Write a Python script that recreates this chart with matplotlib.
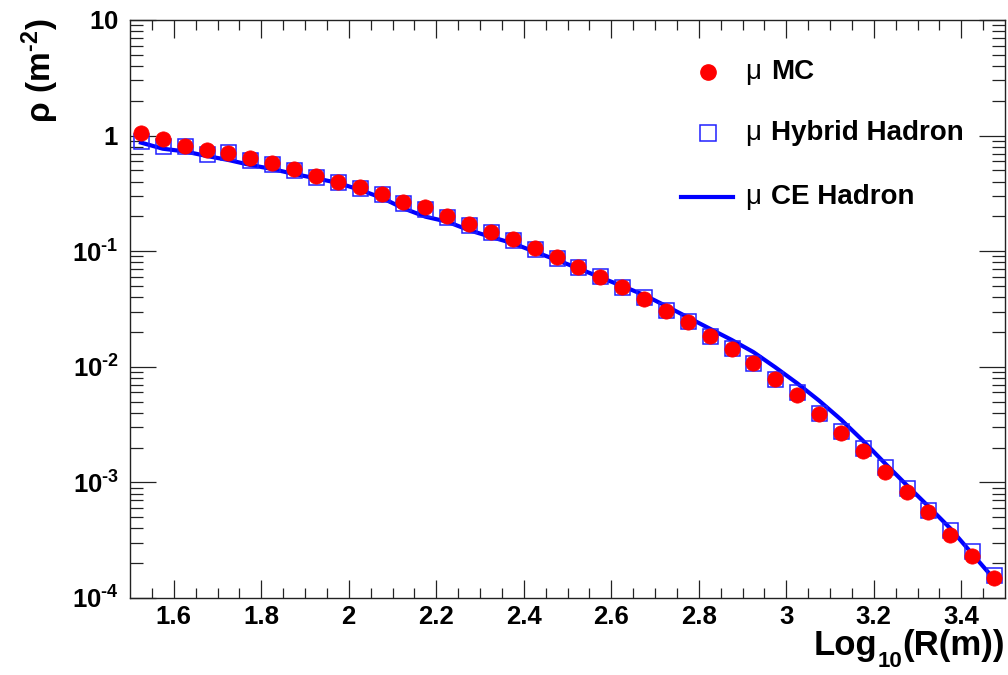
import numpy as np
import matplotlib
matplotlib.use('Agg')
import matplotlib.pyplot as plt
from matplotlib.ticker import FixedLocator, LogLocator, NullFormatter
from matplotlib.lines import Line2D

# -- muon lateral density vs log10(R) --
log_r = [1.525, 1.575, 1.625, 1.675, 1.725, 1.775, 1.825, 1.875, 1.925, 1.975,
         2.025, 2.075, 2.125, 2.175, 2.225, 2.275, 2.325, 2.375, 2.425, 2.475,
         2.525, 2.575, 2.625, 2.675, 2.725, 2.775, 2.825, 2.875, 2.925, 2.975,
         3.025, 3.075, 3.125, 3.175, 3.225, 3.275, 3.325, 3.375, 3.425, 3.475]

rho_mc = [1.05, 0.94, 0.81, 0.75, 0.71, 0.64, 0.58, 0.51, 0.45, 0.40,
          0.357, 0.313, 0.265, 0.24, 0.202, 0.171, 0.148, 0.127, 0.106, 0.0885,
          0.0734, 0.0594, 0.0487, 0.0389, 0.0304, 0.0243, 0.0186, 0.0142, 0.0107, 0.0078,
          0.0057, 0.0039, 0.0027, 0.00186, 0.00124, 0.00083, 0.00055, 0.00035, 0.00023, 0.000148]

rho_hybrid = [0.90, 0.81, 0.81, 0.70, 0.72, 0.62, 0.565, 0.50, 0.435, 0.40,
              0.35, 0.31, 0.26, 0.23, 0.197, 0.168, 0.148, 0.126, 0.105, 0.087,
              0.073, 0.061, 0.049, 0.040, 0.031, 0.0247, 0.0186, 0.0145, 0.0107, 0.0078,
              0.0061, 0.0040, 0.0028, 0.0020, 0.00136, 0.00090, 0.00058, 0.00039, 0.000256, 0.000158]

rho_ce = [0.87, 0.77, 0.73, 0.667, 0.615, 0.557, 0.514, 0.466, 0.427, 0.39,
          0.34, 0.29, 0.235, 0.199, 0.18, 0.152, 0.133, 0.117, 0.099, 0.084,
          0.071, 0.0594, 0.050, 0.0418, 0.0336, 0.0268, 0.0214, 0.0171, 0.0134, 0.0099,
          0.0072, 0.0051, 0.0035, 0.0023, 0.00147, 0.00095, 0.00062, 0.00040, 0.000241, 0.000146]

x_major = [1.6, 1.8, 2.0, 2.2, 2.4, 2.6, 2.8, 3.0, 3.2, 3.4]
x_labels = ['1.6', '1.8', '2', '2.2', '2.4', '2.6', '2.8', '3', '3.2', '3.4']
y_major = [1e-4, 1e-3, 1e-2, 1e-1, 1, 10]
# short hyphen in the exponents, as ROOT draws them
y_labels = ['$10^{\u20104}$', '$10^{\u20103}$', '$10^{\u20102}$', '$10^{\u20101}$', '$1$', '$10$']

plt.rcParams.update({
    'font.family': 'Liberation Sans',
    'font.weight': 'bold',
    'mathtext.fontset': 'custom',
    'mathtext.rm': 'Liberation Sans:bold',
    'mathtext.it': 'Liberation Sans:bold',
    'mathtext.bf': 'Liberation Sans:bold',
    'mathtext.sf': 'Liberation Sans',
})

BLUE = '#0000ff'
RED = '#ff0000'

W, H = 1008, 675
fig = plt.figure(figsize=(W / 100, H / 100), dpi=100)
ax = fig.add_axes([130 / W, 1 - 598 / H, 875 / W, 578 / H])

ax.plot(log_r, rho_ce, color=BLUE, lw=3.0, zorder=2)
ax.plot(log_r, rho_hybrid, ls='none', marker='s', ms=10.8, mfc='none',
        mec='#2020ff', mew=1.1, zorder=3)
ax.plot(log_r, rho_mc, ls='none', marker='o', ms=11, mfc=RED, mec=RED,
        mew=0.5, zorder=4)

ax.set_yscale('log')
ax.set_xlim(1.5, 3.5)
ax.set_ylim(1e-4, 10)

ax.xaxis.set_major_locator(FixedLocator(x_major))
ax.xaxis.set_minor_locator(FixedLocator(np.arange(1.55, 3.5, 0.05)))
ax.set_xticklabels(x_labels)
ax.yaxis.set_major_locator(FixedLocator(y_major))
ax.yaxis.set_minor_locator(LogLocator(base=10, subs=np.arange(2, 10)))
ax.yaxis.set_minor_formatter(NullFormatter())
ax.set_yticklabels(y_labels)

for sp in ax.spines.values():
    sp.set_linewidth(1.0)
    sp.set_color('#222222')

ax.tick_params(axis='both', which='both', direction='in', top=True, right=True,
               width=0.9, color='#222222')
ax.tick_params(axis='x', which='major', length=13, labelsize=18.5, pad=5)
ax.tick_params(axis='x', which='minor', length=7)
ax.tick_params(axis='y', which='major', length=18.5, labelsize=18.5, pad=8)
ax.tick_params(axis='y', which='minor', length=9.5)

def fx(px):
    return px / W

def fy(py):
    return 1 - py / H

# x title built from pieces so the subscript sits low, right-aligned to the frame
renderer = fig.canvas.get_renderer()
right = 1005
base = 655
for txt, size, dy in [('(R(m))', 25, 0), ('10', 16, 12), ('Log', 25, 0)]:
    t = fig.text(fx(right), fy(base + dy), txt, fontsize=size, fontweight='bold',
                 ha='right', va='baseline')
    right -= t.get_window_extent(renderer).width + (1 if txt == '10' else 0)

fig.text(40 / W, 1 - 18 / H, '$\\mathsf{\\rho}\\ \\mathbf{(m^{\u20102})}$', fontsize=24,
         rotation=90, ha='center', va='top')

# legend drawn by hand, no frame
fig.add_artist(Line2D([fx(708)], [fy(72)], ls='none', marker='o', ms=11,
                      mfc=RED, mec=RED))
fig.add_artist(Line2D([fx(708)], [fy(133)], ls='none', marker='s', ms=11.5,
                      mfc='none', mec='#2020ff', mew=1.1))
fig.add_artist(Line2D([fx(681), fx(733)], [fy(197), fy(197)], color=BLUE, lw=3.0))

entries = [(72, 'MC'), (133, 'Hybrid Hadron'), (197, 'CE Hadron')]
for py, name in entries:
    fig.text(fx(745), fy(py), '\u03bc', fontsize=20, fontweight='normal',
             ha='left', va='center')
    fig.text(fx(771), fy(py), name, fontsize=20, fontweight='bold',
             ha='left', va='center')

fig.savefig('out.png', dpi=100, facecolor='white')
